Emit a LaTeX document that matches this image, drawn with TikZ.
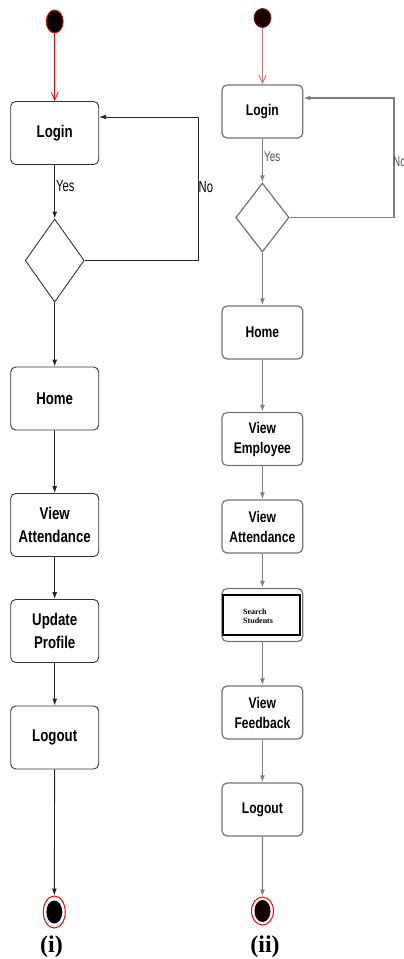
\documentclass[tikz,border=0pt]{standalone}
\usepackage{fontspec}
\setmainfont{Liberation Sans}
\newfontfamily\bxf[FakeStretch=0.78]{Liberation Sans}
\newfontfamily\lbf[FakeStretch=0.7]{Liberation Sans}
\newfontfamily\serf{Liberation Serif}
\usetikzlibrary{shapes.geometric,arrows.meta}
\definecolor{pinkarr}{RGB}{215,120,120}
\definecolor{darkred}{RGB}{140,25,25}
\begin{document}
\begin{tikzpicture}[x=1pt,y=-1pt,
  boxL/.style={draw=black!80, line width=0.9pt, rounded corners=5pt, minimum width=88pt, minimum height=63pt, align=center, font=\bxf\bfseries\fontsize{17}{23}\selectfont, inner sep=0pt},
  boxR/.style={draw=black!55, line width=1.2pt, rounded corners=5pt, minimum width=80.7pt, minimum height=53pt, align=center, font=\bxf\bfseries\fontsize{15.5}{20}\selectfont, inner sep=0pt},
  arrL/.style={draw=black!85, line width=0.9pt, -{Latex[length=7pt,width=5pt]}},
  arrR/.style={draw=black!50, line width=1.3pt, -{Latex[length=7pt,width=5pt]}},
  decision/.style={draw, shape=diamond, inner sep=0pt},
  lbl/.style={anchor=west, inner sep=0pt},
  endouter/.style={shape=ellipse, draw=red, fill=white, line width=1pt, inner sep=0pt},
  endinner/.style={shape=ellipse, fill=black, inner sep=0pt},
  capt/.style={font=\serf\bfseries\fontsize{24}{24}\selectfont, inner sep=0pt}
]
\useasboundingbox (0,0) rectangle (404,959);

% ---------- Diagram (i) ----------
\node[shape=ellipse, fill=black, draw=red, line width=0.8pt, minimum width=17pt, minimum height=23pt, inner sep=0pt] (sL) at (54.7,21.5) {};
\node[boxL] (loginL) at (54.7,133) {Login};
\node[decision, draw=black!80, line width=0.9pt, minimum width=59pt, minimum height=83pt] (dL) at (54.7,260.5) {};
\node[boxL] (homeL) at (54.7,398.5) {Home};
\node[boxL] (attL) at (54.7,525) {View\\Attendance};
\node[boxL] (updL) at (54.7,631) {Update\\Profile};
\node[boxL] (logoutL) at (54.7,737.5) {Logout};
\node[endouter, minimum width=22pt, minimum height=32pt] (eL) at (54.3,912) {};
\node[endinner, minimum width=16pt, minimum height=23pt] (eLi) at (eL.center) {};
\node[capt] (capL) at (51.5,947) {(i)};

\draw[red, line width=0.8pt, -{Straight Barb[length=8pt,width=7pt]}] (sL) -- (loginL);
\draw[arrL] (loginL) -- (dL);
\coordinate (nL) at (198,117);
\draw[arrL] (dL.east) -| (nL) -- (nL -| loginL.east);
\draw[arrL] (dL) -- (homeL);
\draw[arrL] (homeL) -- (attL);
\draw[arrL] (attL) -- (updL);
\draw[arrL] (updL) -- (logoutL);
\draw[arrL] (logoutL) -- (eL);
\node[lbl, font=\lbf\fontsize{16}{16}\selectfont] (yesL) at (56,186) {Yes};
\node[lbl, font=\lbf\fontsize{16}{16}\selectfont] (noL) at (198.5,187) {No};

% ---------- Diagram (ii) ----------
\node[shape=ellipse, fill=black!90!red, draw=darkred, line width=0.8pt, minimum width=17pt, minimum height=19pt, inner sep=0pt] (sR) at (262.5,18) {};
\node[boxR] (loginR) at (262.4,111.5) {Login};
\node[decision, draw=black!55, line width=1.2pt, minimum width=53.3pt, minimum height=69pt] (dR) at (262.4,217.5) {};
\node[boxR] (homeR) at (262.4,332.5) {Home};
\node[boxR] (empR) at (262.4,439) {View\\Employee};
\node[boxR] (attR) at (262.4,526.5) {View\\Attendance};
\node[boxR] (searchR) at (262.4,615) {};
\node[draw=black, line width=2pt, minimum width=77.3pt, minimum height=40pt, inner sep=0pt] (searchIn) at (261.4,615) {};
\node[anchor=west, inner sep=0pt, align=left, font=\serf\bfseries\fontsize{8}{9}\selectfont] (searchT) at (243,616) {Search\\Students};
\node[boxR] (fbR) at (262.4,712.5) {View\\Feedback};
\node[boxR] (logoutR) at (262.4,809.5) {Logout};
\node[endouter, minimum width=22pt, minimum height=28pt] (eR) at (262.5,911) {};
\node[endinner, fill=black!90!red, minimum width=16pt, minimum height=22pt] (eRi) at (eR.center) {};
\node[capt] (capR) at (265,947) {(ii)};

\draw[pinkarr, line width=1pt, -{Straight Barb[length=8pt,width=7pt]}] (sR) -- (loginR);
\draw[arrR] (loginR) -- (dR);
\coordinate (nR) at (394,98);
\draw[arrR] (dR.east) -| (nR) -- (nR -| loginR.east);
\draw[arrR] (dR) -- (homeR);
\draw[arrR] (homeR) -- (empR);
\draw[arrR] (empR) -- (attR);
\draw[arrR] (attR) -- (searchR);
\draw[arrR] (searchR) -- (fbR);
\draw[arrR] (fbR) -- (logoutR);
\draw[arrR] (logoutR) -- (eR);
\node[lbl, text=black!70, font=\lbf\fontsize{14}{14}\selectfont] (yesR) at (264,157) {Yes};
\node[lbl, text=black!70, font=\lbf\fontsize{14}{14}\selectfont] (noR) at (393,162) {No};
\end{tikzpicture}
\end{document}
